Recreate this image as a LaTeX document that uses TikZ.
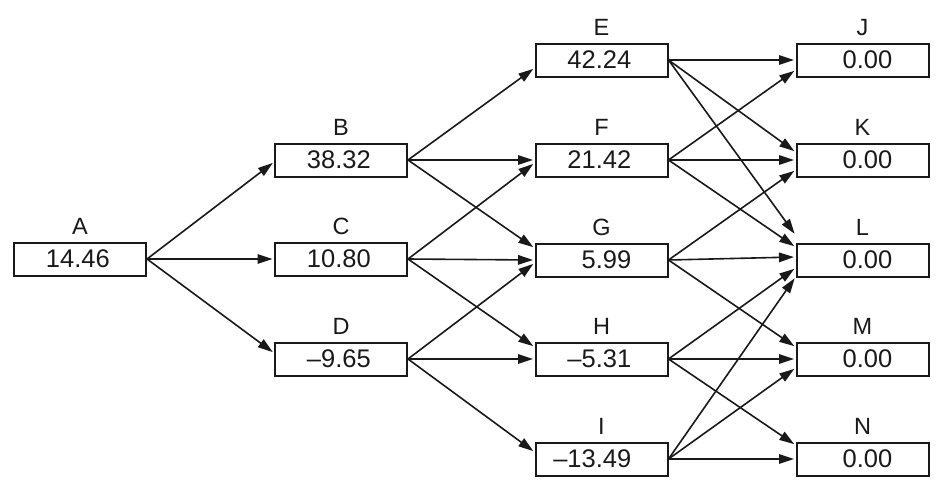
\documentclass[tikz,border=0pt]{standalone}
\usepackage{fontspec}
\setmainfont{Liberation Sans}
\usetikzlibrary{arrows.meta,calc}
\definecolor{ink}{RGB}{25,25,25}
\tikzset{
  box/.style={draw=ink, line width=2pt, minimum width=132pt, minimum height=33pt, inner sep=0pt},
  val/.style={font=\fontsize{25.5}{25.5}\selectfont, text=ink, inner sep=0pt, anchor=base east},
  lab/.style={font=\fontsize{23.5}{23.5}\selectfont, text=ink, inner sep=0pt, anchor=base},
  conn/.style={draw=ink, line width=1.6pt, -{Triangle[length=15pt,width=9.5pt]}, shorten >=1.5pt},
}
\newcommand\mkbox[5]{%
  \node[box] (#1) at (#2,#3) {};
  \node[val] (#1v) at ($(#1.east)+(-37,8.5)$) {#5};
  \node[lab] (#1l) at ($(#1.north)+(0,-7)$) {#4};
}
\newcommand\mylink[3]{\draw[conn] (#1.east) -- ($(#2.west)+(0,#3)$);}
\begin{document}
\begin{tikzpicture}[x=1pt,y=-1pt]
\useasboundingbox (0,0) rectangle (950,480);
\mkbox{A}{80}{259}{A}{14.46}
\mkbox{B}{341}{160}{B}{38.32}
\mkbox{C}{341}{259}{C}{10.80}
\mkbox{D}{341}{359}{D}{–9.65}
\mkbox{E}{601.5}{60}{E}{42.24}
\mkbox{F}{601.5}{160}{F}{21.42}
\mkbox{G}{601.5}{260}{G}{5.99}
\mkbox{H}{601.5}{359}{H}{–5.31}
\mkbox{I}{601.5}{459}{I}{–13.49}
\mkbox{J}{862.5}{60}{J}{0.00}
\mkbox{K}{862.5}{160}{K}{0.00}
\mkbox{L}{862.5}{260}{L}{0.00}
\mkbox{M}{862.5}{359}{M}{0.00}
\mkbox{N}{862.5}{459}{N}{0.00}
\mylink{A}{B}{2}
\mylink{A}{C}{0}
\mylink{A}{D}{-6}
\mylink{B}{E}{8}
\mylink{B}{F}{0}
\mylink{B}{G}{-12}
\mylink{C}{F}{3}
\mylink{C}{G}{0}
\mylink{C}{H}{-12}
\mylink{D}{G}{3}
\mylink{D}{H}{0}
\mylink{D}{I}{-7}
\mylink{E}{J}{0}
\mylink{E}{K}{-8}
\mylink{E}{L}{-25}
\mylink{F}{J}{10}
\mylink{F}{K}{0}
\mylink{F}{L}{-13}
\mylink{G}{K}{10}
\mylink{G}{L}{-3}
\mylink{G}{M}{-12}
\mylink{H}{L}{8}
\mylink{H}{M}{0}
\mylink{H}{N}{-14}
\mylink{I}{L}{17}
\mylink{I}{M}{9}
\mylink{I}{N}{0}
\end{tikzpicture}
\end{document}
